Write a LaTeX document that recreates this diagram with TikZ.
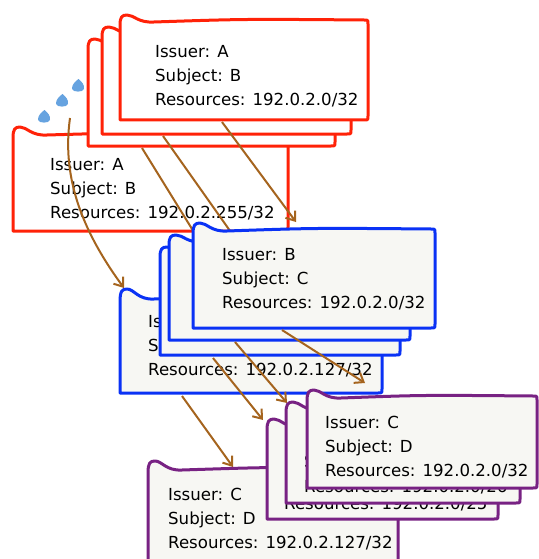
\documentclass[tikz,border=0pt]{standalone}
\usepackage{fontspec}
\setmainfont{DejaVu Sans}
\usetikzlibrary{arrows.meta}

\definecolor{certred}{HTML}{FF2208}
\definecolor{certblue}{HTML}{0A32F5}
\definecolor{certpurple}{HTML}{782283}
\definecolor{chain}{HTML}{A5641E}
\definecolor{paper}{HTML}{F7F7F3}
\definecolor{dot}{HTML}{66A3E0}

% certificate card: style, left, top, right, bottom, height of the curled corner
\newcommand{\cardshape}[6]{%
  \filldraw[#1] (#2,#5) -- (#2,{#3+5})
    .. controls (#2,{#3-#6+2}) and ({#2+2},{#3-#6}) .. ({#2+7},{#3-#6})
    .. controls ({#2+14},{#3-#6}) and ({#2+18},{#3+3}) .. ({#2+34},{#3+2})
    .. controls ({(#2+#4)/2},{#3-1}) .. ({#4-4},#3)
    .. controls (#4,#3) .. (#4,{#3+4}) -- (#4,{#5-4})
    .. controls (#4,#5) .. ({#4-4},#5) -- cycle;}

% small blue drop, rounded triangle pointing up
\newcommand{\drop}[2]{%
  \fill[dot] ({#1+0.5},{#2-7}) .. controls ({#1+3.5},{#2-4.5}) and ({#1+7},{#2-1}) .. ({#1+6},{#2+3})
    .. controls ({#1+5},{#2+6.5}) and ({#1-5},{#2+6.5}) .. ({#1-6},{#2+3})
    .. controls ({#1-6.5},{#2-1}) and ({#1-2.5},{#2-5}) .. cycle;}

\tikzset{
  redcard/.style={draw=certred, fill=white, line width=3pt, line join=round},
  bluecard/.style={draw=certblue, fill=paper, line width=3pt, line join=round},
  purplecard/.style={draw=certpurple, fill=paper, line width=3pt, line join=round},
  txt/.style={anchor=base west, inner sep=0pt, font=\fontsize{16.6}{20}\selectfont},
  link/.style={draw=chain, line width=2pt, -{Straight Barb[length=8pt,width=12pt,line width=2pt]}},
  hidden/.style={draw=chain, line width=2pt},
}

\begin{document}
\begin{tikzpicture}[x=1pt, y=-1pt]
\useasboundingbox (0,0) rectangle (538,559);

% ---------- first level: issuer A ----------
\cardshape{redcard}{13}{133}{288}{231}{6}
\node[txt] (ra1) at (50,170) {Issuer: A};
\node[txt] (ra2) at (50,194) {Subject: B};
\node[txt] (ra3) at (50,218) {Resources: 192.0.2.255/32};

\cardshape{redcard}{88}{44}{335}{146}{5}
\cardshape{redcard}{102}{32}{351}{134}{5}
\cardshape{redcard}{120}{20}{368}{120}{5}
\node[txt] (rb1) at (155,58) {Issuer: A};
\node[txt] (rb2) at (155,82) {Subject: B};
\node[txt] (rb3) at (155,106) {Resources: 192.0.2.0/32};

\drop{44}{117}
\drop{62}{101}
\drop{78}{86}

% links leaving the first level
\coordinate (s0) at (70,118);
\coordinate (t0) at (124,288);
\coordinate (s1) at (142,148);
\coordinate (t1) at (205,250);
\coordinate (s2) at (163,136);
\coordinate (t2) at (240,245);
\coordinate (s3) at (222,122);
\coordinate (t3) at (296,222);
\draw[link] (s0) .. controls (62,175) and (80,228) .. (t0);
\draw[hidden] (s1) -- (t1);
\draw[hidden] (s2) -- (t2);
\draw[link] (s3) -- (t3);

% ---------- second level: issuer B ----------
\cardshape{bluecard}{120}{297}{382}{393}{8}
\node[txt] (ba1) at (148,327) {Issuer: B};
\node[txt] (ba2) at (148,351) {Subject: C};
\node[txt] (ba3) at (148,375) {Resources: 192.0.2.127/32};

\cardshape{bluecard}{160}{252}{400}{355}{5}
\cardshape{bluecard}{169}{240}{410}{340}{5}
\cardshape{bluecard}{193}{229}{435}{328}{6}
\node[txt] (bb1) at (222,260) {Issuer: B};
\node[txt] (bb2) at (222,284) {Subject: C};
\node[txt] (bb3) at (222,308) {Resources: 192.0.2.0/32};

% links leaving the second level
\coordinate (u0) at (182,396);
\coordinate (v0) at (233,467);
\coordinate (u1) at (213,358);
\coordinate (v1) at (263,420);
\coordinate (u2) at (235,342);
\coordinate (v2) at (287,403);
\coordinate (u3) at (282,330);
\coordinate (v3) at (365,383);
\draw[link] (u0) -- (v0);
\draw[link] (u1) -- (v1);
\draw[link] (u2) -- (v2);
\draw[link] (u3) -- (v3);

% ---------- third level: issuer C ----------
\cardshape{purplecard}{148}{468}{398}{575}{7}
\node[txt] (pa1) at (168,500) {Issuer: C};
\node[txt] (pa2) at (168,524) {Subject: D};
\node[txt] (pa3) at (168,548) {Resources: 192.0.2.127/32};

\cardshape{purplecard}{267}{425}{498}{519}{6}
\node[txt] (pb2) at (284,485) {Subject: D};
\node[txt] (pb3) at (284,509) {Resources: 192.0.2.0/25};

\cardshape{purplecard}{286}{408}{520}{503}{6}
\node[txt] (pc2) at (304,467) {Subject: D};
\node[txt] (pc3) at (304,492) {Resources: 192.0.2.0/26};

\cardshape{purplecard}{307}{396}{537}{488}{6}
\node[txt] (pd1) at (325,428) {Issuer: C};
\node[txt] (pd2) at (325,452) {Subject: D};
\node[txt] (pd3) at (325,476) {Resources: 192.0.2.0/32};
\end{tikzpicture}
\end{document}
